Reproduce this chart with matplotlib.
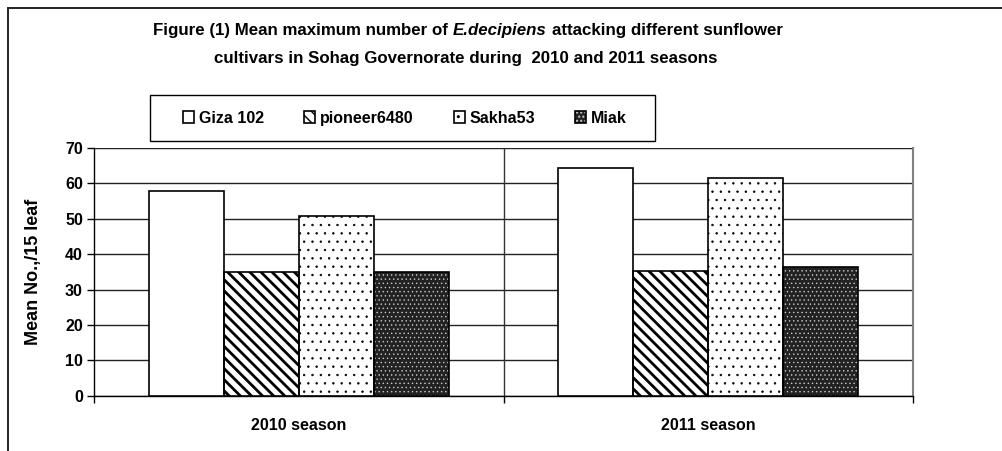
import numpy as np
import matplotlib
matplotlib.use('Agg')
import matplotlib.pyplot as plt
from matplotlib.patches import Rectangle

plt.rcParams['font.family'] = ['Liberation Sans', 'DejaVu Sans']
plt.rcParams['font.weight'] = 'bold'
plt.rcParams['axes.labelweight'] = 'bold'

# data
seasons = ['2010 season', '2011 season']
cultivars = ['Giza 102', 'pioneer6480', 'Sakha53', 'Miak']
giza = [57.8, 64.4]
pioneer = [34.9, 35.2]
sakha = [50.8, 61.4]
miak = [34.9, 36.3]
y_ticks = [0, 10, 20, 30, 40, 50, 60, 70]

series = [giza, pioneer, sakha, miak]
# fill colour, hatch, hatch colour, hatch linewidth
styles = [
    ('white', '', 'black', 1.0),
    ('white', '\\\\\\', 'black', 2.0),
    ('white', '..', 'black', 0.5),
    ('#222222', '....', '#c8c8c8', 0.5),
]

W, H = 1003, 451
fig = plt.figure(figsize=(W / 100, H / 100), dpi=100)
ax = fig.add_axes([94 / W, 1 - 395.7 / H, 819 / W, (395.7 - 148) / H])

x = np.arange(len(seasons))
bw = 0.183
handles = []
for i, (vals, (fc, hatch, hc, hlw)) in enumerate(zip(series, styles)):
    xs = x + (i - 1.5) * bw
    with plt.rc_context({'hatch.linewidth': hlw}):
        b1 = ax.bar(xs, vals, bw, color=fc, edgecolor=hc, hatch=hatch,
                    linewidth=0, zorder=3)
        for p in b1:
            if hasattr(p, 'set_hatch_linewidth'):
                p.set_hatch_linewidth(hlw)
    b2 = ax.bar(xs, vals, bw, fill=False, edgecolor='black', linewidth=1.2, zorder=4)
    handles.append((b1[0], b2[0]))

ax.set_xlim(-0.5, 1.5)
ax.set_ylim(0, 70)
ax.set_yticks(y_ticks)
ax.tick_params(axis='y', length=5, width=1, labelsize=11.5, pad=3)
ax.yaxis.grid(True, color='#222222', linewidth=1.0)
ax.set_axisbelow(True)
ax.axvline(0.5, color='#333333', linewidth=1.0, zorder=1)

ax.set_xticks([-0.5, 0.5, 1.5])
ax.set_xticklabels([])
ax.tick_params(axis='x', which='major', length=5, width=1)
ax.set_xticks(x, minor=True)
ax.set_xticklabels(seasons, minor=True)
ax.tick_params(axis='x', which='minor', length=0, labelsize=11.5, pad=16)

for s in ['left', 'bottom']:
    ax.spines[s].set_color('black')
    ax.spines[s].set_linewidth(1.0)
ax.spines['right'].set_color('#808080')
ax.spines['right'].set_linewidth(1.5)
ax.spines['top'].set_visible(False)

ax.set_ylabel('Mean No.,/15 leaf', fontsize=13, fontweight='bold')
ax.yaxis.set_label_coords(-0.064, 0.5)

# legend box
fig.patches.append(Rectangle((150 / W, 1 - 141 / H), 505 / W, 46 / H,
                             transform=fig.transFigure, fill=False,
                             edgecolor='black', linewidth=1.0))
fig.legend(handles, cultivars, loc='center', bbox_to_anchor=(405 / W, 1 - 118 / H),
           ncol=4, frameon=False, fontsize=11.5, handlelength=0.7, handleheight=0.7,
           handletextpad=0.3, columnspacing=2.5)

# outer frame
fig.patches.append(Rectangle((8 / W, -0.05), 1.05, 1 - 8 / H + 0.05,
                             transform=fig.transFigure, fill=False,
                             edgecolor='#222222', linewidth=1.4))

# title, with the species name in italics
renderer = fig.canvas.get_renderer()
tsize = 12.2
parts = [('Figure (1) Mean maximum number of', 'normal'),
         ('E.decipiens', 'italic'),
         ('attacking different sunflower', 'normal')]
sp = fig.text(0, 0, 'a a', fontsize=tsize)
nsp = fig.text(0, 0, 'aa', fontsize=tsize)
space = sp.get_window_extent(renderer).width - nsp.get_window_extent(renderer).width
sp.remove()
nsp.remove()
y1 = 1 - 30 / H
txts = [fig.text(0, y1, s, fontsize=tsize, style=st, va='center', ha='left')
        for s, st in parts]
widths = [t.get_window_extent(renderer).width for t in txts]
total = sum(widths) + space * (len(txts) - 1)
xpos = 468 - total / 2
for t, wdt in zip(txts, widths):
    t.set_x(xpos / W)
    xpos += wdt + space
fig.text(466 / W, 1 - 58 / H,
         'cultivars in Sohag Governorate during  2010 and 2011 seasons',
         fontsize=tsize, va='center', ha='center')

fig.savefig('out.png', dpi=100)
